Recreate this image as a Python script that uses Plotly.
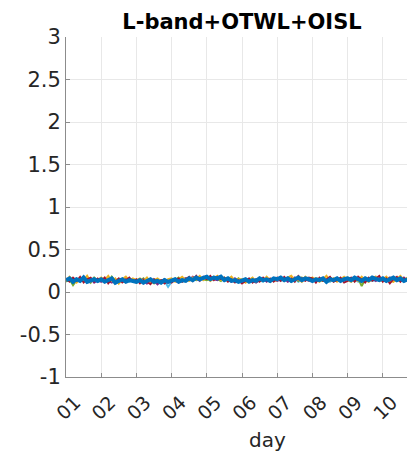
import plotly.graph_objects as go

# x positions (days), one sample every 0.1 day from day 1.0 to 10.7
day_start = 1.0
day_step = 0.1

cyan_vals = [.14, .13, .15, .16, .12, .15, .14, .13, .16, .12,
             .15, .13, .16, .14, .15, .12, .14, .16, .12, .14,
             .13, .15, .12, .14, .13, .15, .12, .14, .13, .06,
             .12, .16, .14, .12, .15, .17, .15, .14, .16, .17,
             .15, .14, .16, .17, .15, .13, .15, .14, .13, .15,
             .12, .14, .16, .13, .15, .14, .12, .16, .14, .15,
             .15, .13, .16, .14, .15, .16, .12, .15, .17, .14,
             .16, .14, .13, .15, .14, .12, .16, .14, .15, .13,
             .14, .16, .15, .12, .16, .14, .16, .13, .14, .17,
             .15, .14, .13, .16, .15, .13, .15, .16]

green_vals = [.12, .15, .08, .14, .16, .13, .15, .11, .17, .13,
              .14, .16, .12, .18, .13, .15, .14, .12, .15, .14,
              .11, .13, .16, .12, .13, .10, .15, .12, .13, .14,
              .15, .14, .17, .13, .16, .15, .16, .14, .17, .15,
              .14, .16, .18, .15, .13, .17, .13, .14, .12, .16,
              .13, .14, .13, .15, .14, .13, .15, .14, .12, .15,
              .16, .14, .15, .15, .12, .16, .13, .17, .14, .16,
              .14, .16, .15, .13, .14, .17, .13, .15, .14, .16,
              .17, .15, .14, .16, .07, .15, .16, .14, .16, .15,
              .13, .14, .16, .15, .13, .15, .16, .14]

purple_vals = [.15, .13, .16, .12, .14, .15, .13, .16, .11, .14,
               .12, .15, .13, .11, .14, .15, .12, .16, .13, .15,
               .13, .12, .15, .10, .14, .13, .09, .13, .15, .11,
               .14, .13, .11, .15, .16, .14, .18, .16, .13, .18,
               .16, .17, .15, .14, .17, .15, .14, .12, .16, .13,
               .14, .12, .15, .13, .11, .14, .16, .12, .15, .14,
               .13, .15, .16, .12, .15, .17, .14, .16, .15, .13,
               .15, .13, .16, .14, .13, .16, .15, .13, .16, .14,
               .15, .16, .13, .15, .16, .12, .15, .16, .13, .16,
               .14, .15, .17, .13, .15, .14, .17, .13]

yellow_vals = [.13, .18, .14, .11, .16, .14, .19, .12, .15, .14,
               .17, .14, .19, .13, .16, .10, .15, .18, .13, .16,
               .14, .16, .13, .17, .12, .14, .16, .13, .11, .15,
               .16, .12, .15, .18, .14, .13, .17, .15, .19, .14,
               .17, .13, .16, .19, .14, .16, .15, .18, .13, .15,
               .15, .11, .14, .17, .12, .15, .13, .18, .14, .13,
               .14, .16, .13, .17, .19, .14, .15, .12, .18, .14,
               .17, .14, .12, .15, .19, .13, .16, .12, .15, .18,
               .14, .12, .15, .13, .18, .14, .12, .15, .18, .13,
               .15, .18, .13, .12, .16, .19, .14, .17]

red_vals = [.16, .12, .17, .13, .18, .11, .15, .17, .12, .16,
            .13, .17, .10, .15, .12, .16, .11, .14, .17, .12,
            .15, .10, .14, .12, .09, .15, .11, .14, .10, .13,
            .11, .14, .16, .12, .15, .18, .13, .19, .14, .17,
            .15, .19, .14, .18, .15, .17, .12, .15, .11, .14,
            .10, .13, .16, .11, .15, .12, .17, .13, .16, .12,
            .17, .13, .18, .14, .16, .12, .19, .15, .13, .17,
            .16, .11, .17, .13, .15, .18, .12, .14, .17, .11,
            .13, .17, .12, .18, .15, .11, .17, .13, .16, .19,
            .12, .16, .10, .15, .18, .12, .16, .14]

blue_vals = [.14, .16, .12, .15, .13, .17, .12, .14, .15, .13,
             .15, .12, .14, .16, .11, .13, .15, .12, .14, .13,
             .12, .14, .11, .13, .15, .12, .13, .11, .14, .12,
             .13, .15, .12, .14, .13, .16, .14, .17, .15, .16,
             .18, .15, .17, .16, .18, .14, .16, .13, .14, .12,
             .13, .15, .12, .14, .13, .16, .14, .15, .13, .16,
             .15, .17, .14, .16, .13, .15, .17, .14, .16, .15,
             .13, .15, .14, .16, .12, .15, .14, .16, .13, .15,
             .16, .14, .17, .15, .13, .16, .14, .17, .15, .14,
             .16, .13, .15, .17, .14, .16, .13, .15]

tick_vals = [1, 2, 3, 4, 5, 6, 7, 8, 9, 10]
tick_text = ["01", "02", "03", "04", "05", "06", "07", "08", "09", "10"]
y_ticks = [-1, -0.5, 0, 0.5, 1, 1.5, 2, 2.5, 3]
y_tick_text = ["-1", "-0.5", "0", "0.5", "1", "1.5", "2", "2.5", "3"]

series = [
    ("cyan", cyan_vals, "#4DBEEE", 2),
    ("green", green_vals, "#77AC30", 2),
    ("purple", purple_vals, "#7E2F8E", 2),
    ("yellow", yellow_vals, "#EDB120", 2),
    ("red", red_vals, "#A2142F", 1.8),
    ("blue", blue_vals, "#0072BD", 4),
]

fig = go.Figure()
for name, vals, color, w in series:
    xs = [day_start + i * day_step for i in range(len(vals))]
    fig.add_trace(go.Scatter(x=xs, y=vals, mode="lines", name=name,
                             line=dict(color=color, width=w),
                             showlegend=False))

FONT = "DejaVu Sans"
fig.update_layout(
    width=407, height=455,
    margin=dict(l=66, r=0, t=37, b=78),
    paper_bgcolor="white", plot_bgcolor="white",
    font=dict(family=FONT, color="#262626"),
    title=dict(text="<b>L-band+OTWL+OISL</b>", x=242 / 407, xanchor="center",
               y=1 - 22 / 455, yanchor="middle",
               font=dict(family=FONT, size=21, color="#000000")),
    xaxis=dict(range=[1, 1 + 341 / 35.2], tickvals=tick_vals, ticktext=tick_text,
               tickangle=-45, tickfont=dict(size=19),
               ticklabelshift=9, ticklabelstandoff=6,
               showgrid=True, gridcolor="#e8e8e8", gridwidth=1,
               showline=True, linecolor="#8c8c8c", linewidth=1,
               ticks="inside", ticklen=4, tickcolor="#8c8c8c",
               zeroline=False),
    yaxis=dict(range=[-1, 3], tickvals=y_ticks, ticktext=y_tick_text,
               tickfont=dict(size=21),
               showgrid=True, gridcolor="#e8e8e8", gridwidth=1,
               showline=True, linecolor="#8c8c8c", linewidth=1,
               ticks="inside", ticklen=4, tickcolor="#8c8c8c",
               zeroline=False),
    annotations=[dict(text="day", x=241 / 407, xref="paper", xanchor="center",
                      y=(377 - 440) / 340, yref="paper", yanchor="middle",
                      showarrow=False, font=dict(family=FONT, size=20, color="#262626"))],
)

fig.write_html("out.html")
